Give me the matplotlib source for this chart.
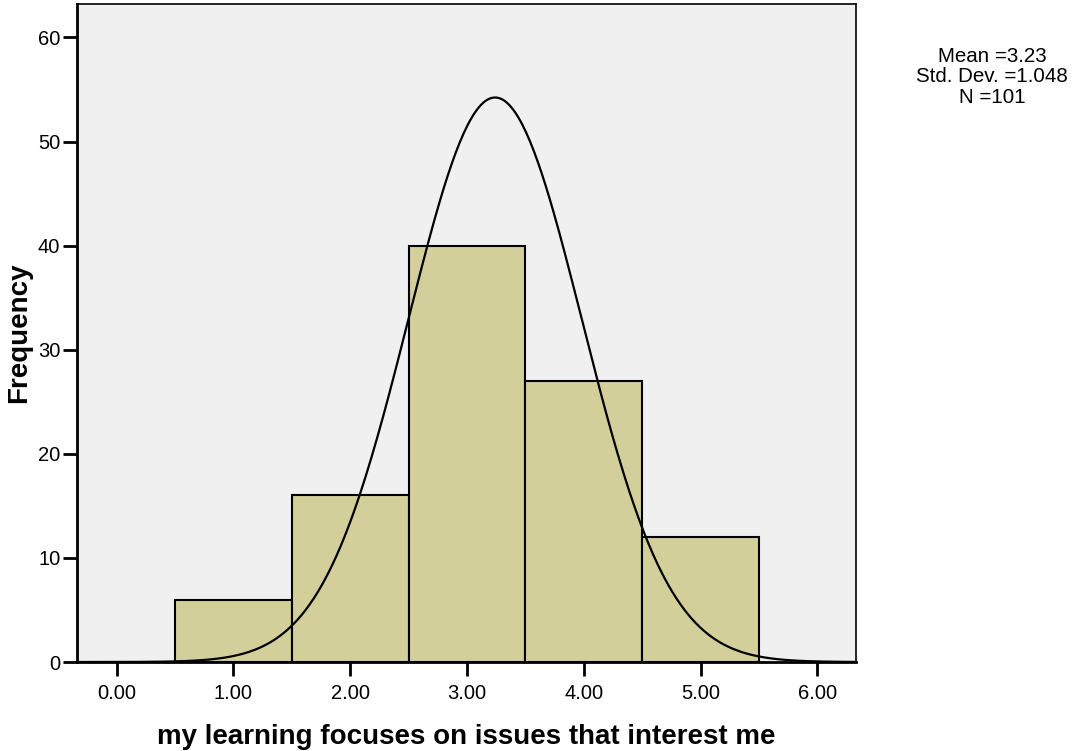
import numpy as np
import matplotlib
matplotlib.use('Agg')
import matplotlib.pyplot as plt

# histogram data (bins of width 1 centred on 1..5)
bin_centers = [1, 2, 3, 4, 5]
counts = [6, 16, 40, 27, 12]
x_ticks = [0, 1, 2, 3, 4, 5, 6]
y_ticks = [0, 10, 20, 30, 40, 50, 60]
stats_lines = ['Mean =3.23', 'Std. Dev. =1.048', 'N =101']

# normal curve as drawn in the picture
curve_mean = 3.24
curve_sd = 0.743
n_total = sum(counts)

plt.rcParams['font.family'] = ['Liberation Sans', 'DejaVu Sans']

fig = plt.figure(figsize=(10.72, 7.51), dpi=100)
ax = fig.add_axes([0.0718, 0.1185, 0.7267, 0.876])
ax.set_facecolor('#f0f0f0')

ax.bar(bin_centers, counts, width=1.0, color='#d3cf9b', edgecolor='black',
       linewidth=1.5, zorder=2)

xs = np.linspace(-0.34, 6.33, 400)
ys = n_total * 1.0 / (curve_sd * np.sqrt(2 * np.pi)) * np.exp(-0.5 * ((xs - curve_mean) / curve_sd) ** 2)
ax.plot(xs, ys, color='black', linewidth=1.6, zorder=3)

ax.set_xlim(-0.34, 6.33)
ax.set_ylim(0, 63.2)
ax.set_xticks(x_ticks)
ax.set_xticklabels(['%.2f' % t for t in x_ticks])
ax.set_yticks(y_ticks)
ax.tick_params(axis='both', labelsize=14.5, width=2, length=10, direction='out')
ax.tick_params(axis='x', pad=6)
ax.tick_params(axis='y', pad=2)

for side in ['left', 'bottom']:
    ax.spines[side].set_linewidth(2)
for side in ['top', 'right']:
    ax.spines[side].set_linewidth(1.2)

ax.set_xlabel('my learning focuses on issues that interest me', fontsize=20,
              fontweight='bold', labelpad=15)
ax.set_ylabel('Frequency', fontsize=20, fontweight='bold', labelpad=4)

# summary stats block, top right
for i, line in enumerate(stats_lines):
    fig.text(0.9255, 1 - (62 + 20.5 * i) / 751, line, fontsize=14.8,
             ha='center', va='baseline')

fig.savefig('out.png', dpi=100)
